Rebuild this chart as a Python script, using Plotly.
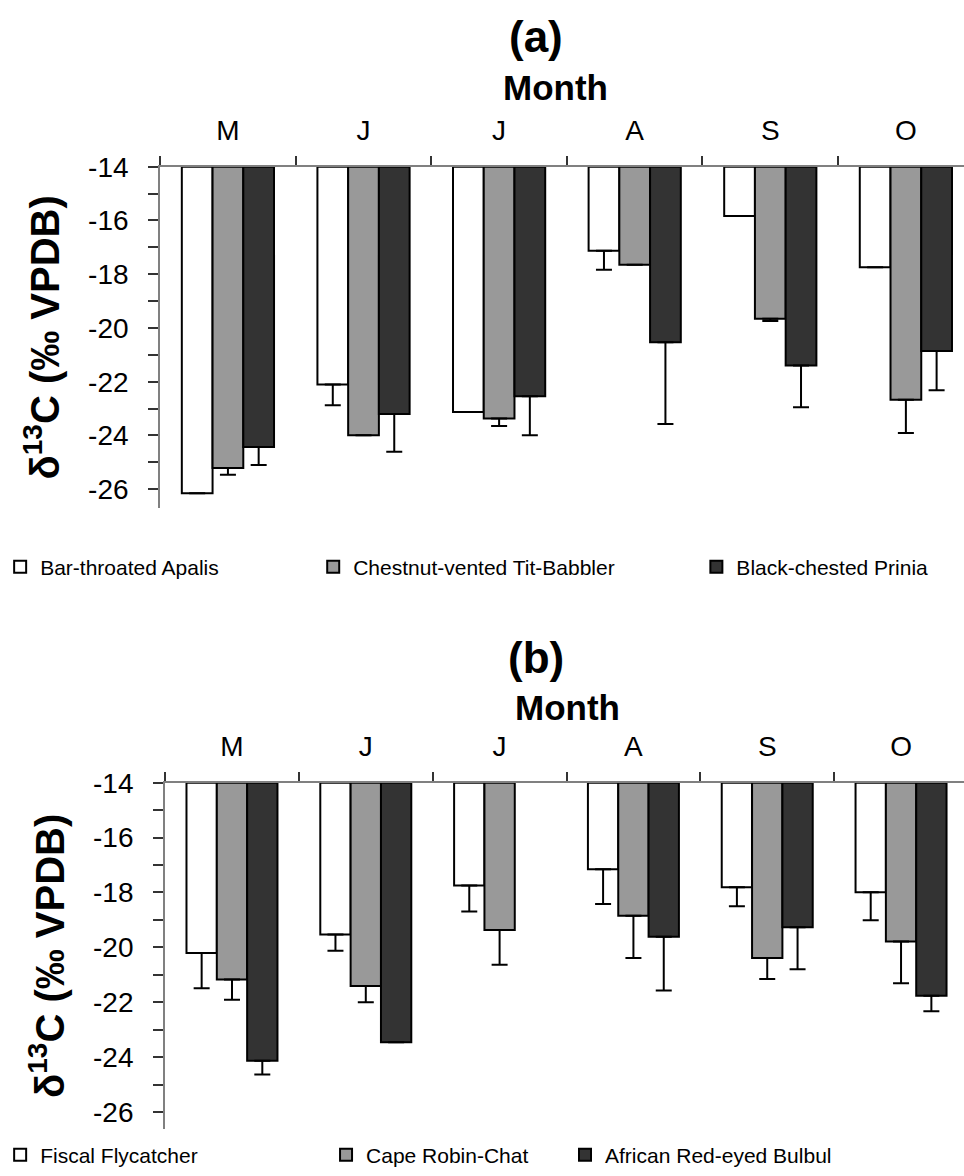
import plotly.graph_objects as go

# Sampling months (category order on the x axis)
months = ["M", "J", "J", "A", "S", "O"]
x_pos = [0, 1, 2, 3, 4, 5]
boundaries = [-0.5, 0.5, 1.5, 2.5, 3.5, 4.5, 5.5]

# Axis baseline: bars hang from -14 ‰
baseline = -14.0
y_ticks = [-14, -16, -18, -20, -22, -24, -26]
y_tick_labels = ["-14", "-16", "-18", "-20", "-22", "-24", "-26"]

# Panel (a) species: mean δ13C and SE per month
species_a = ["Bar-throated Apalis", "Chestnut-vented Tit-Babbler", "Black-chested Prinia"]
apalis_mean = [-26.15, -22.10, -23.13, -17.13, -15.83, -17.74]
apalis_se = [None, 0.78, None, 0.70, None, None]
babbler_mean = [-25.21, -23.99, -23.37, -17.65, -19.66, -22.67]
babbler_se = [0.25, None, 0.28, None, 0.08, 1.24]
prinia_mean = [-24.43, -23.20, -22.54, -20.53, -21.40, -20.86]
prinia_se = [0.67, 1.41, 1.45, 3.04, 1.55, 1.46]

# Panel (b) species
species_b = ["Fiscal Flycatcher", "Cape Robin-Chat", "African Red-eyed Bulbul"]
fiscal_mean = [-20.21, -19.53, -17.75, -17.15, -17.81, -17.99]
fiscal_se = [1.28, 0.59, 0.94, 1.27, 0.69, 1.02]
robin_mean = [-21.17, -21.41, -19.37, -18.85, -20.39, -19.79]
robin_se = [0.74, 0.59, 1.26, 1.54, 0.76, 1.52]
bulbul_mean = [-24.13, -23.46, None, -19.61, -19.27, -21.76]
bulbul_se = [0.50, None, None, 1.96, 1.53, 0.57]

fills = ["#FFFFFF", "#999999", "#333333"]

W, H = 964, 1176
FONT = "Arial, Liberation Sans, Helvetica, sans-serif"


def rel(means):
    return [None if m is None else m - baseline for m in means]


def add_series(fig, name, means, ses, color, xa, ya, legend):
    fig.add_trace(go.Bar(
        x=x_pos, y=rel(means), base=baseline, name=name,
        marker=dict(color=color, line=dict(color="#000000", width=2)),
        error_y=dict(type="data", symmetric=False,
                     array=[0 if s is not None else None for s in ses],
                     arrayminus=ses, color="#000000", thickness=2, width=8),
        xaxis=xa, yaxis=ya, legend=legend,
    ))


fig = go.Figure()
panel_a = [(apalis_mean, apalis_se), (babbler_mean, babbler_se), (prinia_mean, prinia_se)]
panel_b = [(fiscal_mean, fiscal_se), (robin_mean, robin_se), (bulbul_mean, bulbul_se)]
legend_ids_a = ["legend", "legend2", "legend3"]
legend_ids_b = ["legend4", "legend5", "legend6"]

for (m, s), name, c, lg in zip(panel_a, species_a, fills, legend_ids_a):
    add_series(fig, name, m, s, c, "x", "y", lg)
for (m, s), name, c, lg in zip(panel_b, species_b, fills, legend_ids_b):
    add_series(fig, name, m, s, c, "x2", "y2", lg)


def x_axis(left_px, cat_px):
    return dict(
        domain=[left_px / W, 1.0], side="top",
        range=[-0.5, -0.5 + (W - left_px) / cat_px],
        tickmode="array", tickvals=x_pos, ticktext=months, ticks="",
        tickfont=dict(size=28, color="#000000", family=FONT),
        ticklabelstandoff=14,
        minor=dict(tickmode="array", tickvals=boundaries, ticks="outside",
                   ticklen=9, tickwidth=1.5, tickcolor="#333333"),
        showline=True, linecolor="#808080", linewidth=2,
        showgrid=False, zeroline=False, automargin=False, fixedrange=True,
    )


def y_axis(top_px, bottom_px, ymin):
    return dict(
        domain=[1 - bottom_px / H, 1 - top_px / H],
        range=[ymin, baseline],
        tickmode="array", tickvals=y_ticks, ticktext=y_tick_labels,
        ticks="outside", ticklen=10, tickwidth=1.5, tickcolor="#333333",
        tickfont=dict(size=28, color="#000000", family=FONT),
        ticklabelstandoff=14,
        minor=dict(tickmode="array", tickvals=[-15, -17, -19, -21, -23, -25],
                   ticks="outside", ticklen=10, tickwidth=1.5, tickcolor="#333333"),
        showline=True, linecolor="#808080", linewidth=2,
        showgrid=False, zeroline=False, automargin=False, fixedrange=True,
        title=dict(text="<b>δ<sup>13</sup>C (‰ VPDB)</b>", standoff=16,
                   font=dict(size=40, color="#000000", family=FONT)),
    )


xa = x_axis(150, 137.3)
xa["anchor"] = "y"
xb = x_axis(155, 135.5)
xb["anchor"] = "y2"
ya = y_axis(166.7, 508, -26.7)
ya["anchor"] = "x"
yb = y_axis(782.7, 1129, -26.62)
yb["anchor"] = "x2"


def legend_at(text_x, y_px, size):
    # keep the legend box inside the page so it does not widen the margins
    left = max(text_x - 52, -12)
    return dict(
        x=left / W, y=1 - y_px / H, xanchor="left", yanchor="middle",
        orientation="h", bgcolor="rgba(0,0,0,0)", borderwidth=0,
        font=dict(size=size, color="#000000", family=FONT),
        itemclick=False, itemdoubleclick=False,
    )


legends = {}
for lid, tx in zip(legend_ids_a, [30, 357, 745]):
    legends[lid] = legend_at(tx, 567, 21)
for lid, tx in zip(legend_ids_b, [35, 370, 612]):
    legends[lid] = legend_at(tx, 1155, 21)

annotations = [
    dict(text="<b>(a)</b>", x=531 / W, y=1 - 36 / H, font=dict(size=44)),
    dict(text="<b>Month</b>", x=550 / W, y=1 - 88 / H, font=dict(size=35)),
    dict(text="<b>(b)</b>", x=531 / W, y=1 - 657 / H, font=dict(size=44)),
    dict(text="<b>Month</b>", x=563 / W, y=1 - 707 / H, font=dict(size=35)),
]
for a in annotations:
    a.update(xref="paper", yref="paper", showarrow=False,
             xanchor="center", yanchor="middle")
    a["font"].update(color="#000000", family=FONT)

fig.update_layout(
    width=W, height=H,
    margin=dict(l=0, r=0, t=0, b=0),
    paper_bgcolor="#FFFFFF", plot_bgcolor="#FFFFFF",
    font=dict(family=FONT, color="#000000"),
    barmode="group", bargap=0.32, bargroupgap=0,
    xaxis=xa, yaxis=ya, xaxis2=xb, yaxis2=yb,
    annotations=annotations,
    showlegend=True,
    **legends,
)

fig.write_html("out.html")
